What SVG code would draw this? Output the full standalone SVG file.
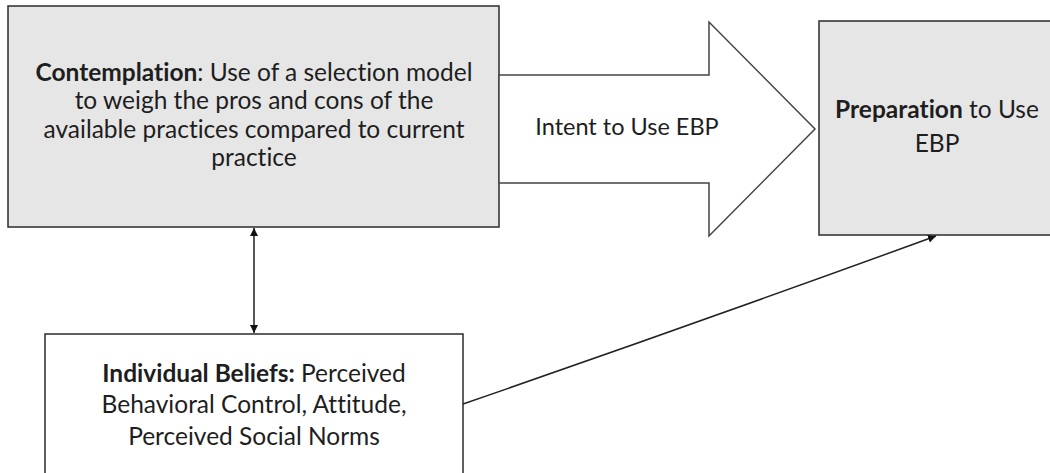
<svg xmlns="http://www.w3.org/2000/svg" width="1050" height="473" viewBox="0 0 1050 473">
<defs>
<style>
.box{stroke:#2b2b2b;stroke-width:1.5}
.grey{fill:#e6e6e6}
.white{fill:#ffffff}
.t{font-family:Lato,"Open Sans","Liberation Sans",sans-serif;font-size:24.5px;fill:#1e1e1e;text-anchor:middle;font-variant-ligatures:none}
.b{font-weight:bold}
.conn{fill:none;stroke:#222;stroke-width:1.5}
</style>
<marker id="ah" viewBox="0 0 10 10" refX="10" refY="5" markerWidth="8" markerHeight="8" markerUnits="userSpaceOnUse" orient="auto-start-reverse">
<path d="M0,0 L10,5 L0,10 Z" fill="#111"/>
</marker>
</defs>
<rect width="1050" height="473" fill="#ffffff"/>
<g id="contemplation">
<rect class="box grey" x="8" y="6" width="491" height="221"/>
<text class="t" x="254" y="81"><tspan class="b">Contemplation</tspan>: Use of a selection model</text>
<text class="t" x="254" y="109">to weigh the pros and cons of the</text>
<text class="t" x="254" y="138">available practices compared to current</text>
<text class="t" x="254" y="166">practice</text>
</g>
<g id="intent-arrow">
<polygon class="white" points="499,75 709,75 709,22 815,129 709,236 709,183 499,183" stroke="#444" stroke-width="1.5"/>
<text class="t" x="627" y="135" style="font-size:23.5px">Intent to Use EBP</text>
</g>
<g id="preparation">
<rect class="box grey" x="819" y="21" width="240" height="214"/>
<text class="t" x="937" y="118"><tspan class="b">Preparation</tspan> to Use</text>
<text class="t" x="937" y="152">EBP</text>
</g>
<g id="beliefs">
<rect class="box white" x="45" y="334" width="418" height="150"/>
<text class="t" x="254" y="382"><tspan class="b">Individual Beliefs:</tspan> Perceived</text>
<text class="t" x="254" y="413">Behavioral Control, Attitude,</text>
<text class="t" x="254" y="445">Perceived Social Norms</text>
</g>
<g id="connectors">
<line class="conn" x1="254" y1="228" x2="254" y2="333" marker-start="url(#ah)" marker-end="url(#ah)"/>
<path class="conn" d="M463,404 Q700,322 936,236" marker-end="url(#ah)"/>
</g>
</svg>
